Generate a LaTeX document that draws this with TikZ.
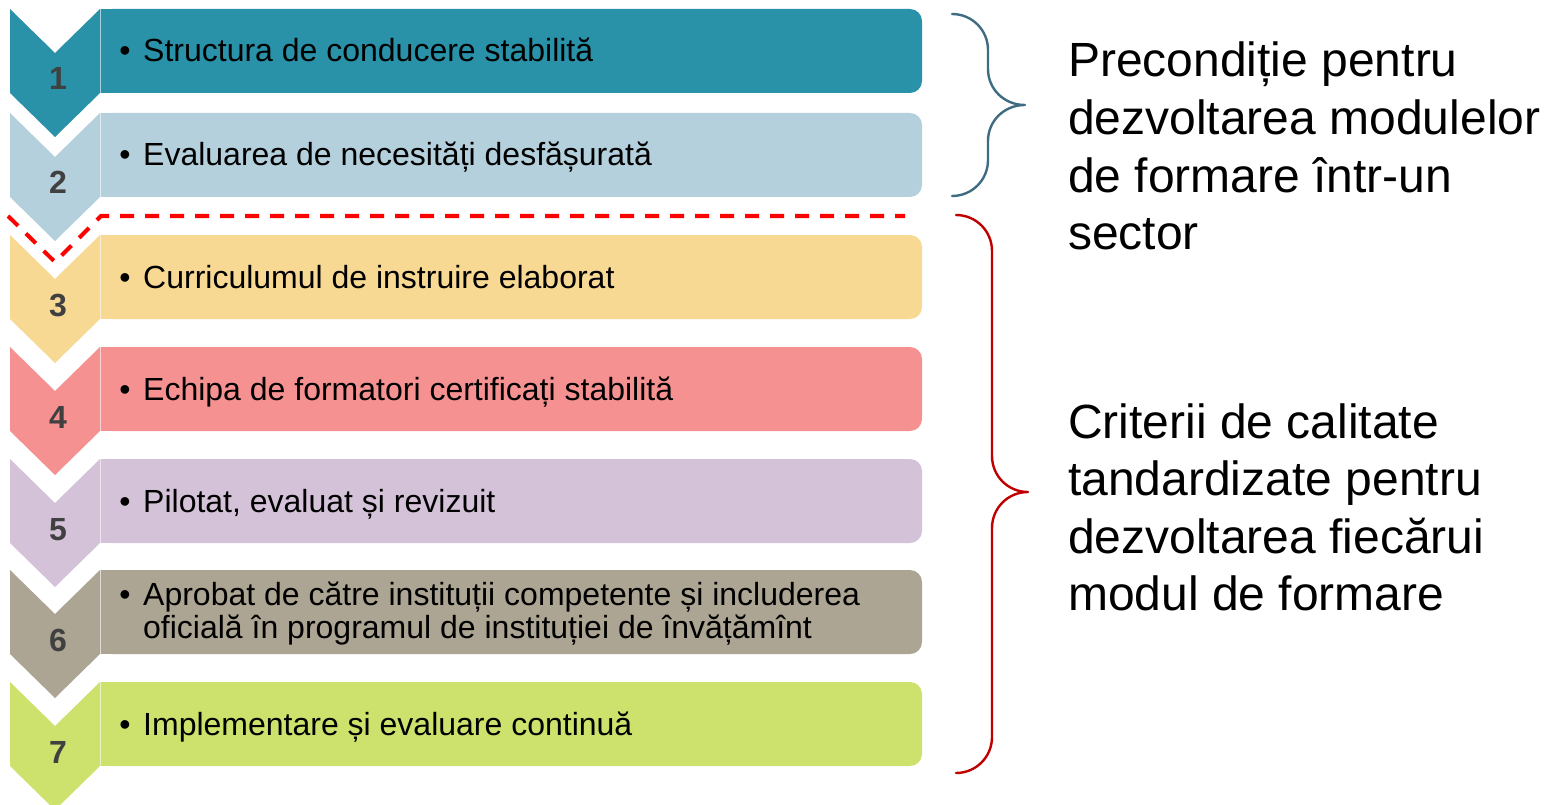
\documentclass[tikz,border=0pt]{standalone}
\usepackage{fontspec}
\setmainfont{Liberation Sans}
\definecolor{c1}{RGB}{41,145,168}
\definecolor{c2}{RGB}{180,208,220}
\definecolor{c3}{RGB}{247,217,147}
\definecolor{c4}{RGB}{246,145,145}
\definecolor{c5}{RGB}{212,194,217}
\definecolor{c6}{RGB}{173,165,147}
\definecolor{c7}{RGB}{204,226,108}
\definecolor{numgray}{RGB}{64,64,64}
\definecolor{braceblue}{RGB}{62,108,130}
\definecolor{bracered}{RGB}{192,0,0}
\definecolor{dashred}{RGB}{255,0,0}
\begin{document}
\begin{tikzpicture}[x=1pt,y=-1pt,
  itemtext/.style={anchor=base west, inner sep=0pt, font=\fontsize{32}{33}\selectfont, text=black},
  bullettext/.style={anchor=base, inner sep=0pt, font=\fontsize{32}{33}\selectfont, text=black},
  numtext/.style={anchor=base, inner sep=0pt, font=\fontsize{32}{33}\selectfont\bfseries, text=numgray},
  sidetext/.style={anchor=base west, inner sep=0pt, align=left, font=\fontsize{48}{57.5}\selectfont, text=black},
  bracestyle/.style={line width=2.4pt, line cap=round, line join=round}]
\useasboundingbox (0,0) rectangle (1544,805);
\clip (0,0) rectangle (1544,805);
\fill[white] (0,0) rectangle (1544,805);

% rows
\foreach \T/\c/\n in {9/c1/1,113/c2/2,235/c3/3,347/c4/4,459/c5/5,570/c6/6,682/c7/7}{
  \fill[\c] (10,\T) -- (55,\T+44) -- (100,\T) -- (100,\T+84) -- (55,\T+128) -- (10,\T+84) -- cycle;
  \fill[\c, rounded corners=12pt] (100,\T) rectangle (922,\T+84);
  \fill[\c] (100,\T) rectangle (500,\T+84);
  \draw[white, line width=0.8pt, opacity=0.6] (100,\T) -- (100,\T+84);
  \node[numtext] (num\n) at (58,\T+81) {\n};
}

\foreach \T/\n/\txt in {9/1/{Structura de conducere stabilită},
  113/2/{Evaluarea de necesități desfășurată},
  235/3/{Curriculumul de instruire elaborat},
  347/4/{Echipa de formatori certificați stabilită},
  459/5/{Pilotat, evaluat și revizuit},
  682/7/{Implementare și evaluare continuă}}{
  \node[bullettext] (bul\n) at (125,\T+53) {•};
  \node[itemtext] (item\n) at (143,\T+53) {\txt};
}
\node[bullettext] (bul6) at (125,605) {•};
\node[itemtext] (item6a) at (143,605) {Aprobat de către instituții competente și includerea};
\node[itemtext] (item6b) at (143,638) {oficială în programul de instituției de învățămînt};

% dashed separator
\draw[dashred, line width=4pt, dash pattern=on 14pt off 11pt] (8,216) -- (55,262) -- (101,216) -- (905,216);

% braces
\draw[braceblue, bracestyle] (952,14) .. controls (972,14) and (988,30) .. (988,50) -- (988,69)
  .. controls (988,89) and (1004,105) .. (1025,105)
  .. controls (1004,105) and (988,121) .. (988,141) -- (988,160)
  .. controls (988,180) and (972,196) .. (952,196);
\draw[bracered, bracestyle] (956,215) .. controls (976,215) and (992,231) .. (992,251) -- (992,456)
  .. controls (992,476) and (1008,492) .. (1028,492)
  .. controls (1008,492) and (992,508) .. (992,528) -- (992,737)
  .. controls (992,757) and (976,773) .. (956,773);

% side texts (base anchor = baseline of the last line)
\node[sidetext] (pre) at (1068,249.5) {Precondiție pentru\\dezvoltarea modulelor\\de formare într-un\\sector};
\node[sidetext] (crit) at (1068,610.5) {Criterii de calitate\\tandardizate pentru\\dezvoltarea fiecărui\\modul de formare};
\end{tikzpicture}
\end{document}
